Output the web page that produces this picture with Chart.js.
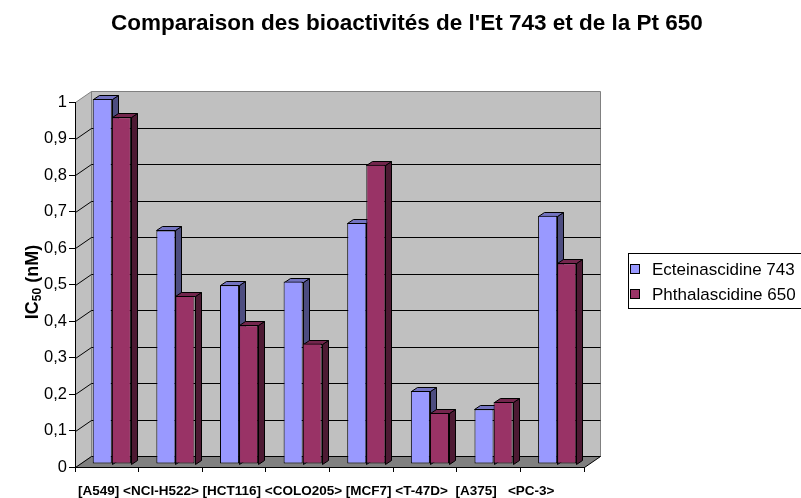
<!DOCTYPE html>
<html>
<head>
<meta charset="utf-8">
<script src="https://cdn.jsdelivr.net/npm/chart.js@4/dist/chart.umd.min.js"></script>
<style>
html, body { margin: 0; padding: 0; background: #fff; }
</style>
</head>
<body>
<canvas id="chart" width="801" height="498"></canvas>
<script>
const categories = ['[A549]', '<NCI-H522>', '[HCT116]', '<COLO205>', '[MCF7]', '<T-47D>', '[A375]', '<PC-3>'];
const et743 = [1, 0.64, 0.49, 0.50, 0.66, 0.20, 0.15, 0.68];
const pt650 = [0.95, 0.46, 0.38, 0.33, 0.82, 0.14, 0.17, 0.55];
const seriesNames = ['Ecteinascidine 743', 'Phthalascidine 650'];
const yMax = 1;
const yStep = 0.1;

const FONT = '"Liberation Sans", Arial, sans-serif';
const frontColors = ['#9999ff', '#993366'];
const topColors = ['#7373c0', '#73264d'];
const sideColors = ['#4d4d80', '#4d1a33'];

// offsets of the fake 3d view
const WALL_DX = 16, WALL_DY = -11;  // front plane -> back wall
const BAR_DX = 5, BAR_DY = -3;      // front plane -> bar fronts
const DEPTH_X = 6, DEPTH_Y = -4;    // bar depth

// Excel packs the category labels in one row; spaces before each label
const labelSpaces = [0, 1, 1, 1, 1, 1, 2, 3];

function poly(ctx, pts, fill, stroke) {
    ctx.beginPath();
    ctx.moveTo(pts[0][0], pts[0][1]);
    for (let i = 1; i < pts.length; i++) ctx.lineTo(pts[i][0], pts[i][1]);
    ctx.closePath();
    if (fill) { ctx.fillStyle = fill; ctx.fill(); }
    if (stroke) { ctx.strokeStyle = stroke; ctx.lineWidth = 1; ctx.stroke(); }
}

const excel3d = {
    id: 'excel3d',
    beforeDraw(chart) {
        const { ctx, chartArea: a } = chart;
        const y = chart.scales.y;
        const L = a.left + 0.5, R = a.right + 0.5, T = a.top + 0.5, B = a.bottom + 0.5;
        ctx.save();
        // side wall and back wall
        poly(ctx, [[L, T], [L + WALL_DX, T + WALL_DY], [L + WALL_DX, B + WALL_DY], [L, B]], '#c0c0c0', '#808080');
        poly(ctx, [[L + WALL_DX, T + WALL_DY], [R + WALL_DX, T + WALL_DY], [R + WALL_DX, B + WALL_DY], [L + WALL_DX, B + WALL_DY]], '#c0c0c0', '#808080');
        // gridlines on both walls
        ctx.strokeStyle = '#000';
        ctx.lineWidth = 1;
        y.ticks.forEach(t => {
            if (t.value <= 0 || t.value >= yMax) return;
            const py = Math.round(y.getPixelForValue(t.value)) + 0.5;
            ctx.beginPath();
            ctx.moveTo(L, py);
            ctx.lineTo(L + WALL_DX, py + WALL_DY);
            ctx.lineTo(R + WALL_DX, py + WALL_DY);
            ctx.stroke();
        });
        // floor
        poly(ctx, [[L, B], [L + WALL_DX, B + WALL_DY], [R + WALL_DX, B + WALL_DY], [R, B]], '#808080', '#000');
        ctx.restore();
    },
    beforeDatasetsDraw(chart) {
        const ctx = chart.ctx;
        ctx.save();
        ctx.translate(BAR_DX, BAR_DY);
        // top and side faces first, the library then draws the fronts over them
        chart.data.datasets.forEach((ds, di) => {
            chart.getDatasetMeta(di).data.forEach(bar => {
                const l = Math.round(bar.x - bar.width / 2) + 0.5;
                const r = Math.round(bar.x + bar.width / 2) + 0.5;
                const t = Math.round(bar.y) + 0.5;
                const b = Math.round(bar.base) + 0.5;
                poly(ctx, [[r, t], [r + DEPTH_X, t + DEPTH_Y], [r + DEPTH_X, b + DEPTH_Y], [r, b]], sideColors[di], '#000');
                poly(ctx, [[l, t], [l + DEPTH_X, t + DEPTH_Y], [r + DEPTH_X, t + DEPTH_Y], [r, t]], topColors[di], '#000');
            });
        });
    },
    afterDatasetsDraw(chart) {
        chart.ctx.restore();
    },
    afterDraw(chart) {
        const ctx = chart.ctx;
        ctx.save();
        ctx.fillStyle = '#000';
        ctx.textBaseline = 'alphabetic';
        ctx.textAlign = 'left';

        // title
        ctx.font = 'bold 22.5px ' + FONT;
        ctx.fillText("Comparaison des bioactivités de l'Et 743 et de la Pt 650", 111, 30);

        // y axis title with subscript
        ctx.save();
        ctx.translate(31, 282);
        ctx.rotate(-Math.PI / 2);
        const big = 'bold 18px ' + FONT, small = 'bold 12px ' + FONT;
        ctx.font = big; const w1 = ctx.measureText('IC').width, w3 = ctx.measureText(' (nM)').width;
        ctx.font = small; const w2 = ctx.measureText('50').width;
        const x0 = -(w1 + w2 + w3) / 2;
        ctx.font = big; ctx.fillText('IC', x0, 6.5);
        ctx.font = small; ctx.fillText('50', x0 + w1, 9.5);
        ctx.font = big; ctx.fillText(' (nM)', x0 + w1 + w2, 6.5);
        ctx.restore();

        // category labels
        ctx.font = 'bold 13.5px ' + FONT;
        const sp = ctx.measureText(' ').width;
        let lx = 78;
        categories.forEach((c, i) => {
            lx += labelSpaces[i] * sp;
            ctx.fillText(c, lx, 495);
            lx += ctx.measureText(c).width;
        });

        // legend
        ctx.strokeStyle = '#000';
        ctx.lineWidth = 1;
        ctx.strokeRect(628.5, 253.5, 180, 55);
        ctx.font = '17px ' + FONT;
        seriesNames.forEach((name, i) => {
            const yy = 264 + i * 25;
            ctx.fillStyle = frontColors[i];
            ctx.fillRect(630.5, yy + 0.5, 9, 9);
            ctx.strokeRect(630.5, yy + 0.5, 9, 9);
            ctx.fillStyle = '#000';
            ctx.fillText(name, 652, yy + 10.5);
        });
        ctx.restore();
    }
};

new Chart(document.getElementById('chart'), {
    type: 'bar',
    data: {
        labels: categories,
        datasets: [
            { label: seriesNames[0], data: et743, backgroundColor: frontColors[0] },
            { label: seriesNames[1], data: pt650, backgroundColor: frontColors[1] }
        ]
    },
    options: {
        responsive: false,
        animation: false,
        devicePixelRatio: 1,
        layout: { padding: { left: 0, right: 217, top: 102, bottom: 0 } },
        datasets: {
            bar: {
                borderColor: '#000',
                borderWidth: 1,
                borderSkipped: false,
                categoryPercentage: 0.6,
                barPercentage: 1.0,
                clip: false
            }
        },
        plugins: {
            legend: { display: false },
            title: { display: false },
            tooltip: { enabled: false }
        },
        scales: {
            x: {
                afterFit(scale) { scale.height = 31; },
                ticks: { display: false },
                grid: { drawOnChartArea: false, drawTicks: true, tickLength: 5, color: '#000' },
                border: { display: true, color: '#000', width: 1 }
            },
            y: {
                min: 0,
                max: yMax,
                afterFit(scale) { scale.width = 75; },
                ticks: {
                    stepSize: yStep,
                    padding: 2,
                    color: '#000',
                    font: { family: FONT, size: 16.5 },
                    callback: v => v.toLocaleString('fr-FR', { maximumFractionDigits: 1 })
                },
                grid: { drawOnChartArea: false, drawTicks: true, tickLength: 6, color: '#000' },
                border: { display: true, color: '#000', width: 1 }
            }
        }
    },
    plugins: [excel3d]
});
</script>
</body>
</html>
